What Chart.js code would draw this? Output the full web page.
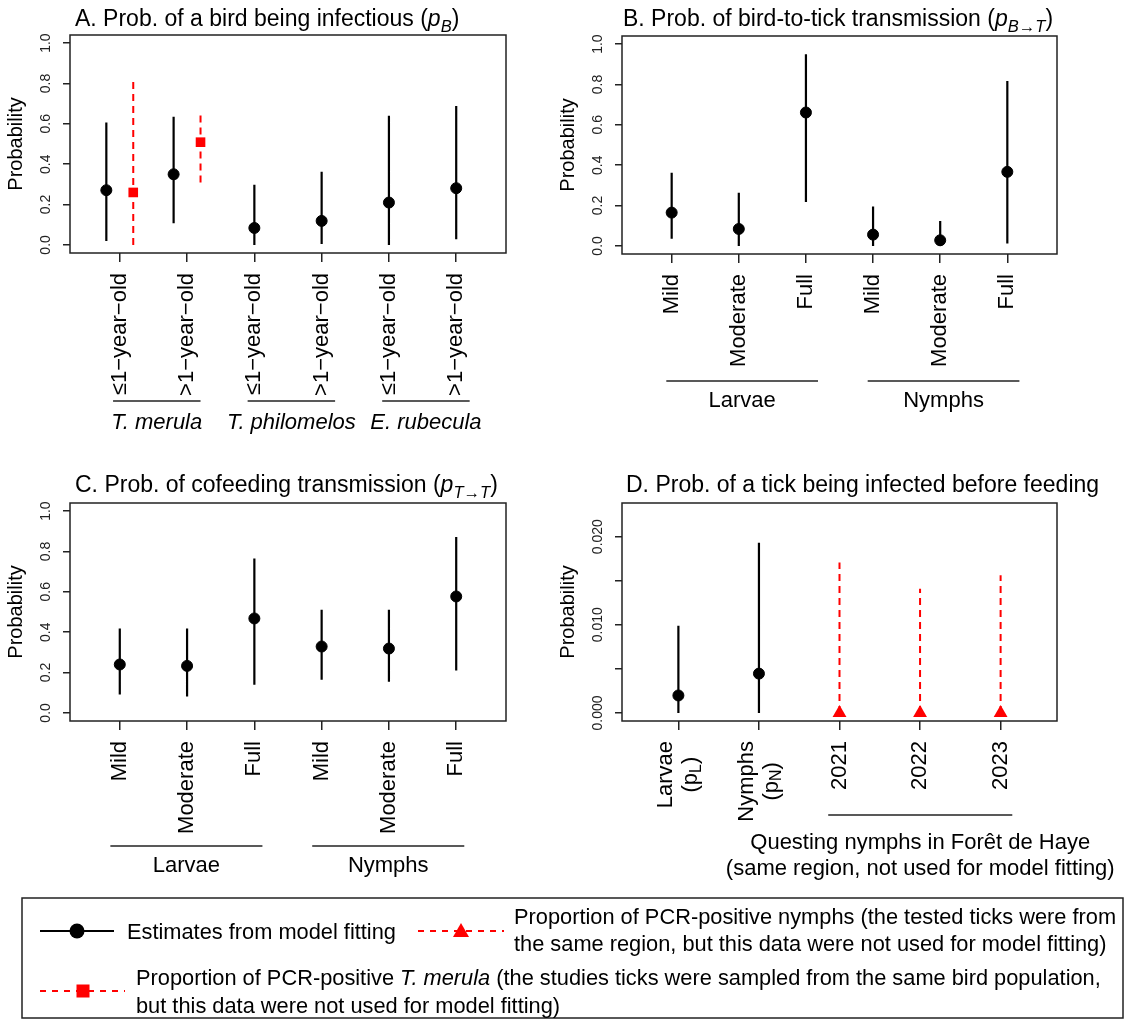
<!DOCTYPE html>
<html>
<head>
<meta charset="utf-8">
<script src="https://cdn.jsdelivr.net/npm/chart.js@4.4.1/dist/chart.umd.min.js"></script>
<style>
  html, body { margin: 0; padding: 0; background: #fff; }
  #wrap { position: relative; width: 1125px; height: 1019px; overflow: hidden; background: #fff; }
  canvas.pc { position: absolute; }
  #leg { position: absolute; left: 0; top: 0; }
  #leg text { font-family: "Liberation Sans", Arial, Helvetica, sans-serif; font-size: 21.8px; fill: #000; }
</style>
</head>
<body>
<div id="wrap">
  <canvas id="cA" class="pc" style="left:0px;top:0px" width="560" height="440"></canvas>
  <canvas id="cB" class="pc" style="left:560px;top:0px" width="565" height="440"></canvas>
  <canvas id="cC" class="pc" style="left:0px;top:440px" width="560" height="440"></canvas>
  <canvas id="cD" class="pc" style="left:560px;top:440px" width="565" height="440"></canvas>
  <svg id="leg" width="1125" height="1019">
    <rect x="22" y="898" width="1101" height="120" fill="none" stroke="#222" stroke-width="1.5"/>
    <line x1="40" y1="931" x2="114" y2="931" stroke="#000" stroke-width="2"/>
    <circle cx="77" cy="931" r="7.5" fill="#000"/>
    <text x="127" y="931" dominant-baseline="central">Estimates from model fitting</text>
    <line x1="418" y1="931" x2="504" y2="931" stroke="#ff0000" stroke-width="2" stroke-dasharray="6 6"/>
    <polygon points="461,923 469,937 453,937" fill="#ff0000"/>
    <text x="514" y="916" dominant-baseline="central">Proportion of PCR-positive nymphs (the tested ticks were from</text>
    <text x="514" y="943" dominant-baseline="central">the same region, but this data were not used for model fitting)</text>
    <line x1="40" y1="991" x2="125" y2="991" stroke="#ff0000" stroke-width="2" stroke-dasharray="6 6"/>
    <rect x="76.5" y="984.5" width="13" height="13" fill="#ff0000"/>
    <text x="136" y="977" dominant-baseline="central">Proportion of PCR-positive <tspan font-style="italic">T. merula</tspan> (the studies ticks were sampled from the same bird population,</text>
    <text x="136" y="1005" dominant-baseline="central">but this data were not used for model fitting)</text>
  </svg>
</div>
<script>
const FONT = '"Liberation Sans", Arial, Helvetica, sans-serif';

// ---------------- DATA ----------------
// shared probability axis
const yTicksP = [0, 0.2, 0.4, 0.6, 0.8, 1.0];
const yTickLabelsP = ["0.0", "0.2", "0.4", "0.6", "0.8", "1.0"];

// Panel A
const titleA = "A. Prob. of a bird being infectious (*p*_{*B*})";
const catA = ["≤1−year−old", ">1−year−old", "≤1−year−old", ">1−year−old", "≤1−year−old", ">1−year−old"];
const groupA = ["*T. merula*", "*T. philomelos*", "*E. rubecula*"];
const groupMembersA = [[1, 2], [3, 4], [5, 6]];
const estCatA = [1, 2, 3, 4, 5, 6];
const estA  = [0.271, 0.350, 0.084, 0.119, 0.210, 0.281];
const lowA  = [0.020, 0.107, 0.000, 0.005, 0.000, 0.028];
const highA = [0.607, 0.635, 0.298, 0.362, 0.640, 0.688];
const pcrCatA  = [1, 2];
const pcrA     = [0.260, 0.509];
const pcrLowA  = [0.000, 0.309];
const pcrHighA = [0.813, 0.664];

// Panel B
const titleB = "B. Prob. of bird-to-tick transmission (*p*_{*B→T*})";
const catB = ["Mild", "Moderate", "Full", "Mild", "Moderate", "Full"];
const groupB = ["Larvae", "Nymphs"];
const groupMembersB = [[1, 3], [4, 6]];
const estCatB = [1, 2, 3, 4, 5, 6];
const estB  = [0.165, 0.084, 0.661, 0.056, 0.028, 0.367];
const lowB  = [0.035, 0.000, 0.218, 0.000, 0.000, 0.012];
const highB = [0.362, 0.264, 0.950, 0.195, 0.124, 0.817];

// Panel C
const titleC = "C. Prob. of cofeeding transmission (*p*_{*T→T*})";
const catC = ["Mild", "Moderate", "Full", "Mild", "Moderate", "Full"];
const groupC = ["Larvae", "Nymphs"];
const groupMembersC = [[1, 3], [4, 6]];
const estCatC = [1, 2, 3, 4, 5, 6];
const estC  = [0.240, 0.233, 0.468, 0.329, 0.319, 0.577];
const lowC  = [0.091, 0.081, 0.139, 0.164, 0.155, 0.210];
const highC = [0.418, 0.418, 0.765, 0.511, 0.511, 0.871];

// Panel D
const titleD = "D. Prob. of a tick being infected before feeding";
const catD = [["Larvae", "(p_{L})"], ["Nymphs", "(p_{N})"], ["2021"], ["2022"], ["2023"]];
const groupD = [["Questing nymphs in Forêt de Haye", "(same region, not used for model fitting)"]];
const groupMembersD = [[3, 5]];
const yTicksD = [0, 0.005, 0.010, 0.015, 0.020];
const yTickLabelsD = ["0.000", "", "0.010", "", "0.020"];
const estCatD = [1, 2];
const estD  = [0.00198, 0.00446];
const lowD  = [0.0, 0.0];
const highD = [0.0099, 0.0193];
const pcrCatD  = [3, 4, 5];
const pcrD     = [0, 0, 0];
const pcrLowD  = [0, 0, 0];
const pcrHighD = [0.01707, 0.0141, 0.01562];

// ---------------- RICH TEXT HELPERS ----------------
function parseRich(str) {
  const out = [];
  str.split(/(_\{[^}]*\}|\*[^*]+\*)/).forEach(tok => {
    if (!tok) return;
    if (tok.startsWith('_{')) {
      let t = tok.slice(2, -1), it = false;
      if (t.length > 1 && t.startsWith('*') && t.endsWith('*')) { it = true; t = t.slice(1, -1); }
      out.push({ t, it, sub: true });
    } else if (tok.length > 1 && tok.startsWith('*') && tok.endsWith('*')) {
      out.push({ t: tok.slice(1, -1), it: true, sub: false });
    } else out.push({ t: tok, it: false, sub: false });
  });
  return out;
}
function fontFor(p, size) { const s = p.sub ? size * 0.72 : size; return (p.it ? 'italic ' : '') + s + 'px ' + FONT; }
function richWidth(ctx, parts, size) {
  let w = 0; parts.forEach(p => { ctx.font = fontFor(p, size); w += ctx.measureText(p.t).width; }); return w;
}
function drawRich(ctx, parts, x, y, size, align) {
  const w = richWidth(ctx, parts, size);
  let cx = align === 'center' ? x - w / 2 : (align === 'right' ? x - w : x);
  ctx.textAlign = 'left';
  parts.forEach(p => {
    ctx.font = fontFor(p, size);
    ctx.fillText(p.t, cx, y + (p.sub ? size * 0.24 : 0));
    cx += ctx.measureText(p.t).width;
  });
}
function asLines(v) { return Array.isArray(v) ? v : [v]; }

// ---------------- DECORATION PLUGIN (R-style box, labels, groups) ----------------
const rPlot = {
  id: 'rplot',
  afterDraw(chart, args, o) {
    const ctx = chart.ctx, ca = chart.chartArea, xs = chart.scales.x, ys = chart.scales.y;
    ctx.save();
    ctx.strokeStyle = '#222'; ctx.lineWidth = 1.5;
    ctx.strokeRect(ca.left, ca.top, ca.right - ca.left, ca.bottom - ca.top);
    ctx.fillStyle = '#000';
    // title
    ctx.textBaseline = 'alphabetic';
    drawRich(ctx, parseRich(o.title), o.titleX, o.titleY, 23, 'left');
    // y tick labels
    ys.ticks.forEach((t, i) => {
      const lab = o.yLabels[i]; if (!lab) return;
      ctx.save();
      ctx.translate(ca.left - 24, ys.getPixelForValue(t.value));
      ctx.rotate(-Math.PI / 2);
      ctx.font = '14px ' + FONT; ctx.textAlign = 'center'; ctx.textBaseline = 'middle';
      ctx.fillStyle = '#222';
      ctx.fillText(lab, 0, 0);
      ctx.restore();
    });
    // y title
    ctx.save();
    ctx.translate(ca.left - 54, (ca.top + ca.bottom) / 2);
    ctx.rotate(-Math.PI / 2);
    ctx.font = '20px ' + FONT; ctx.textAlign = 'center'; ctx.textBaseline = 'middle';
    ctx.fillText('Probability', 0, 0);
    ctx.restore();
    // x tick labels (rotated, reading upwards)
    xs.ticks.forEach((t, i) => {
      const lines = asLines(o.xLabels[i]).map(parseRich);
      const ws = lines.map(l => richWidth(ctx, l, 22));
      const maxW = Math.max(...ws);
      ctx.save();
      ctx.translate(xs.getPixelForValue(t.value), ca.bottom + o.xLabGap);
      ctx.rotate(-Math.PI / 2);
      ctx.textBaseline = 'middle';
      lines.forEach((l, k) => drawRich(ctx, l, -maxW / 2, (k - (lines.length - 1) / 2) * 25, 22, 'center'));
      ctx.restore();
    });
    // group lines and labels
    o.groups.forEach((g, gi) => {
      const m = o.members[gi];
      const x1 = xs.getPixelForValue(m[0] + o.ext[0]);
      const x2 = xs.getPixelForValue(m[1] + o.ext[1]);
      ctx.strokeStyle = '#222'; ctx.lineWidth = 1.5;
      ctx.beginPath(); ctx.moveTo(x1, o.groupLineY); ctx.lineTo(x2, o.groupLineY); ctx.stroke();
      ctx.textBaseline = 'middle';
      asLines(g).forEach((ln, k) => drawRich(ctx, parseRich(ln), (x1 + x2) / 2, o.groupLabelY + k * 26, 22, 'center'));
    });
    ctx.restore();
  }
};

function bars(xv, lo, hi) {
  const d = [];
  xv.forEach((x, i) => { d.push({ x: x, y: lo[i] }, { x: x, y: hi[i] }, { x: x, y: null }); });
  return d;
}
function pts(xv, v) { return xv.map((x, i) => ({ x: x, y: v[i] })); }

function makePanel(p) {
  const catPos = p.cats.map((_, i) => i + 1);
  const estX = p.estCat.map(c => (p.pcrCat && p.dodge && p.pcrCat.includes(c)) ? c - p.dodge : c);
  const datasets = [];
  datasets.push({ type: 'line', data: pts(estX, p.est), showLine: false, pointRadius: 5.5, pointBorderWidth: 1,
    pointBackgroundColor: '#000', pointBorderColor: '#000', pointStyle: 'circle', clip: false });
  if (p.pcr) {
    const pcrX = p.pcrCat.map(c => p.dodge ? c + p.dodge : c);
    datasets.push({ type: 'line', data: pts(pcrX, p.pcr), showLine: false, pointRadius: p.pcrStyle === 'rect' ? 6.8 : 8,
      pointBorderWidth: 0, pointBackgroundColor: '#ff0000', pointBorderColor: '#ff0000', pointStyle: p.pcrStyle, clip: false });
    datasets.push({ type: 'line', data: bars(pcrX, p.pcrLow, p.pcrHigh), showLine: true, spanGaps: false, pointRadius: 0,
      borderColor: '#ff0000', borderWidth: 2, borderDash: [7, 5], tension: 0, clip: false });
  }
  datasets.push({ type: 'line', data: bars(estX, p.low, p.high), showLine: true, spanGaps: false, pointRadius: 0,
    borderColor: '#000', borderWidth: 2.2, tension: 0, clip: false });

  const gridOpt = (len) => ({ display: true, drawOnChartArea: false, drawTicks: true, tickLength: len, color: '#222', lineWidth: 1.5 });
  new Chart(document.getElementById(p.id), {
    type: 'line',
    data: { datasets },
    options: {
      responsive: false, animation: false, events: [],
      layout: { padding: { left: 0, top: p.box.top, right: p.W - p.box.right, bottom: 0 } },
      plugins: {
        legend: { display: false }, tooltip: { enabled: false },
        rplot: { title: p.title, titleX: p.titleX, titleY: p.titleY, yLabels: p.yLabels, xLabels: p.cats,
          xLabGap: 20, groups: p.groups, members: p.members, ext: p.ext, groupLineY: p.groupLineY, groupLabelY: p.groupLabelY }
      },
      scales: {
        x: { type: 'linear', bounds: 'data', min: p.xmin, max: p.xmax,
          afterBuildTicks: s => { s.ticks = catPos.map(v => ({ value: v })); },
          afterFit: s => { s.height = p.H - p.box.bottom; },
          ticks: { display: false }, grid: gridOpt(9), border: { display: false } },
        y: { type: 'linear', bounds: 'data', min: p.ymin, max: p.ymax,
          afterBuildTicks: s => { s.ticks = p.yTicks.map(v => ({ value: v })); },
          afterFit: s => { s.width = p.box.left; },
          ticks: { display: false }, grid: gridOpt(7), border: { display: false } }
      }
    },
    plugins: [rPlot]
  });
}

makePanel({ id: 'cA', W: 560, H: 440, box: { left: 70, top: 35, right: 506, bottom: 253 },
  xmin: 0.26, xmax: 6.74, ymin: -0.04, ymax: 1.04, yTicks: yTicksP, yLabels: yTickLabelsP,
  cats: catA, estCat: estCatA, est: estA, low: lowA, high: highA,
  pcrCat: pcrCatA, pcr: pcrA, pcrLow: pcrLowA, pcrHigh: pcrHighA, pcrStyle: 'rect', dodge: 0.2,
  title: titleA, titleX: 75, titleY: 26,
  groups: groupA, members: groupMembersA, ext: [-0.1, 0.2], groupLineY: 401, groupLabelY: 423 });

makePanel({ id: 'cB', W: 565, H: 440, box: { left: 62, top: 36, right: 497, bottom: 254 },
  xmin: 0.26, xmax: 6.74, ymin: -0.04, ymax: 1.04, yTicks: yTicksP, yLabels: yTickLabelsP,
  cats: catB, estCat: estCatB, est: estB, low: lowB, high: highB,
  title: titleB, titleX: 63, titleY: 26,
  groups: groupB, members: groupMembersB, ext: [-0.08, 0.18], groupLineY: 381, groupLabelY: 401 });

makePanel({ id: 'cC', W: 560, H: 440, box: { left: 70, top: 63, right: 506, bottom: 281 },
  xmin: 0.26, xmax: 6.74, ymin: -0.04, ymax: 1.04, yTicks: yTicksP, yLabels: yTickLabelsP,
  cats: catC, estCat: estCatC, est: estC, low: lowC, high: highC,
  title: titleC, titleX: 75, titleY: 52,
  groups: groupC, members: groupMembersC, ext: [-0.14, 0.12], groupLineY: 406, groupLabelY: 426 });

makePanel({ id: 'cD', W: 565, H: 440, box: { left: 62, top: 63, right: 497, bottom: 281 },
  xmin: 0.3, xmax: 5.7, ymin: -0.000916, ymax: 0.023816, yTicks: yTicksD, yLabels: yTickLabelsD,
  cats: catD, estCat: estCatD, est: estD, low: lowD, high: highD,
  pcrCat: pcrCatD, pcr: pcrD, pcrLow: pcrLowD, pcrHigh: pcrHighD, pcrStyle: 'triangle', dodge: 0,
  title: titleD, titleX: 66, titleY: 52,
  groups: groupD, members: groupMembersD, ext: [-0.14, 0.145], groupLineY: 375, groupLabelY: 403 });
</script>
</body>
</html>
